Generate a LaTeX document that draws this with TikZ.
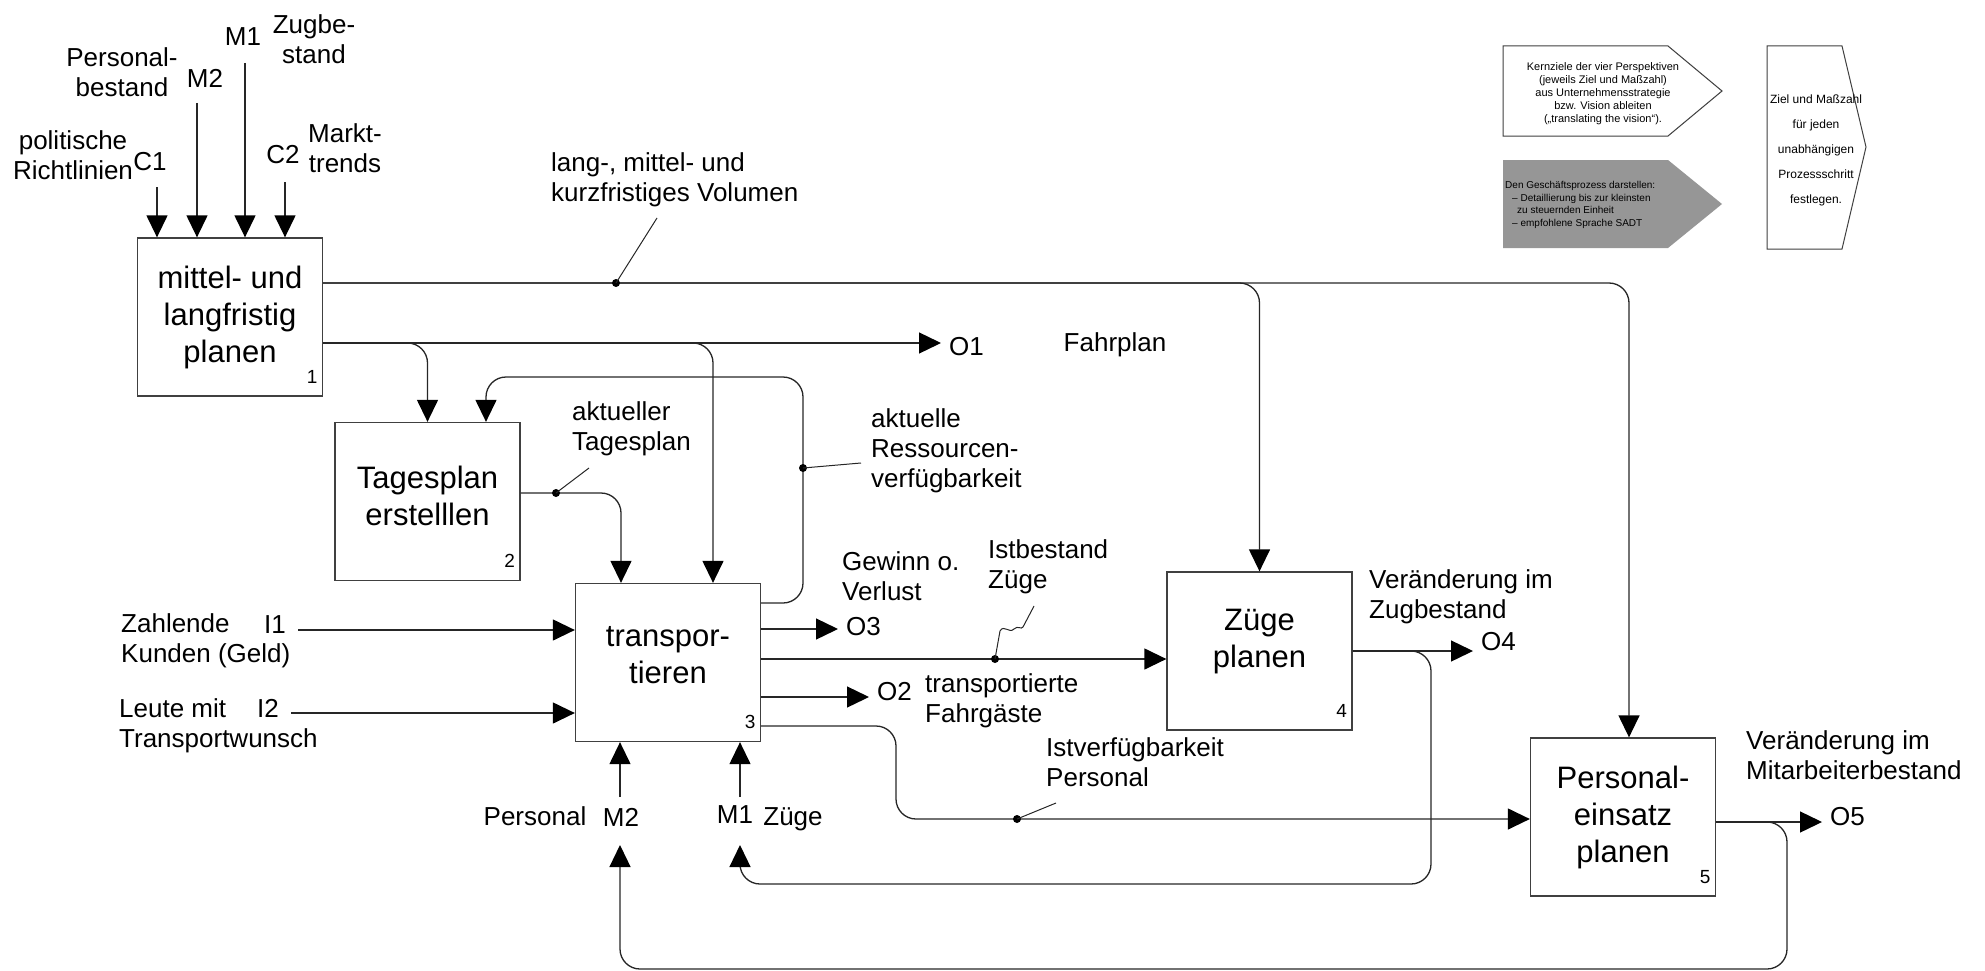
\documentclass[tikz,border=0pt]{standalone}
\usepackage{fontspec}
\setmainfont{Liberation Sans}
\usetikzlibrary{arrows.meta, positioning}

\begin{document}
\begin{tikzpicture}[
		x=1pt, y=-1pt,
		node distance=8pt,
		block/.style={rectangle, draw=black!75, line width=1.3pt,
			minimum width=185pt, minimum height=158pt},
		btxt/.style={inner sep=0pt, align=center, font=\fontsize{31}{37}\selectfont},
		nr/.style={inner sep=0pt, font=\fontsize{19}{19}\selectfont},
		lbl/.style={inner sep=0pt, align=left, font=\fontsize{26}{30}\selectfont},
		clbl/.style={lbl, align=center},
		note/.style={draw=black!75, line width=1pt, fill=white},
		notetxt/.style={inner sep=0pt, align=center, font=\fontsize{11}{13}\selectfont},
		dot/.style={circle, fill=black, inner sep=0pt, minimum size=8pt},
		flow/.style={line width=1.3pt, draw=black!85, rounded corners=20pt},
		arr/.style={flow, -{Triangle[length=22pt, width=21pt, color=black]}},
		lead/.style={line width=1pt, draw=black!85}
	]
	\useasboundingbox (0,0) rectangle (1985,971);

	\node[block] (plan) at (230,317) {};
	\node[block] (tages) at (427.5,501.5) {};
	\node[block] (trans) at (668,662.5) {};
	\node[block] (zuege) at (1259.5,651) {};
	\node[block] (pers) at (1623,817) {};
	\node[btxt] (tplan) at (plan) {mittel- und\\langfristig\\planen};
	\node[btxt] (ttages) at ([yshift=6pt]tages.center) {Tagesplan\\erstelllen};
	\node[btxt] (ttrans) at ([yshift=7pt]trans.center) {transpor-\\tieren};
	\node[btxt] (tzuege) at ([yshift=9pt]zuege.center) {Züge\\planen};
	\node[btxt] (tpers) at (pers) {Personal-\\einsatz\\planen};
	\node[nr] (n1) at ([xshift=-11pt, yshift=20pt]plan.south east) {1};
	\node[nr] (n2) at ([xshift=-11pt, yshift=20pt]tages.south east) {2};
	\node[nr] (n3) at ([xshift=-11pt, yshift=20pt]trans.south east) {3};
	\node[nr] (n4) at ([xshift=-11pt, yshift=20pt]zuege.south east) {4};
	\node[nr] (n5) at ([xshift=-11pt, yshift=20pt]pers.south east) {5};

	\coordinate (c1) at (157,187);
	\coordinate (m2t) at (197,103);
	\coordinate (m1t) at (245,63);
	\coordinate (c2) at (285,182);
	\draw[arr] (c1) -- (c1 |- plan.north);
	\draw[arr] (m2t) -- (m2t |- plan.north);
	\draw[arr] (m1t) -- (m1t |- plan.north);
	\draw[arr] (c2) -- (c2 |- plan.north);
	\node[clbl] (lpol) at (73,155) {politische\\Richtlinien};
	\node[lbl] (lc1) at (150,162) {C1};
	\node[clbl] (lpb) at (122,72) {Personal-\\bestand};
	\node[lbl] (lm2t) at (205,78) {M2};
	\node[lbl] (lm1t) at (243,37) {M1};
	\node[clbl] (lzb) at (314,39) {Zugbe-\\stand};
	\node[lbl] (lc2) at (283,155) {C2};
	\node[clbl] (lmt) at (345,148) {Markt-\\trends};

	\coordinate (u1) at ([yshift=34pt]plan.east);
	\coordinate (l1) at ([yshift=-26pt]plan.east);
	\draw[arr] (u1) -| (zuege.north);
	\draw[arr] (u1) -| ([xshift=6pt]pers.north);
	\node[dot] (d1) at (616,283) {};
	\coordinate (e1) at (657,218);
	\draw[lead] (d1.center) -- (e1);
	\node[lbl, anchor=west] (lvol) at (551,179.5) {lang-, mittel- und\\kurzfristiges Volumen};

	\coordinate (o1) at (941,343);
	\draw[arr] (l1) -- (o1);
	\node[lbl, right=of o1, yshift=-4pt] (lo1) {O1};
	\node[lbl] (lfp) at (1115,345) {Fahrplan};
	\draw[arr] (l1) -| (tages.north);
	\draw[arr] (l1) -| ([xshift=45pt]trans.north);

	\draw[arr] ([yshift=8.5pt]tages.east) -| ([xshift=-47pt]trans.north);
	\node[dot] (d2) at (556,493) {};
	\coordinate (e2) at (589,468);
	\draw[lead] (d2.center) -- (e2);
	\node[lbl, anchor=west] (ltp) at (572,429) {aktueller\\Tagesplan};

	\coordinate (f3) at ([yshift=59.5pt]trans.east);
	\coordinate (k2) at (803,377);
	\draw[arr] (f3) -| (k2) -| ([xshift=58.5pt]tages.north);
	\node[dot] (d3) at (803,468) {};
	\coordinate (e3) at (861,463);
	\draw[lead] (d3.center) -- (e3);
	\node[lbl, anchor=west] (lres) at (871,451) {aktuelle\\Ressourcen-\\verfügbarkeit};

	\coordinate (i1) at (298,630);
	\coordinate (i2) at (291,713);
	\draw[arr] (i1) -- (i1 -| trans.west);
	\draw[arr] (i2) -- (i2 -| trans.west);
	\node[lbl, anchor=west] (lzk) at (121,640.5) {Zahlende\\Kunden (Geld)};
	\node[lbl] (li1) at (275,625) {I1};
	\node[lbl, anchor=west] (llt) at (119,726) {Leute mit\\Transportwunsch};
	\node[lbl] (li2) at (268,708) {I2};

	\coordinate (s3a) at ([yshift=33.5pt]trans.east);
	\coordinate (o3) at (838,629);
	\draw[arr] (s3a) -- (o3);
	\node[lbl, right=of o3, yshift=2pt] (lo3) {O3};
	\node[lbl, anchor=west] (lgv) at (842,576.5) {Gewinn o.\\Verlust};

	\coordinate (s3b) at ([yshift=3.5pt]trans.east);
	\draw[arr] (s3b) -- (s3b -| zuege.west);
	\node[dot] (d4) at (995,659) {};
	\coordinate (e4) at (1034,606);
	\draw[lead] (d4.center) -- (1000,631) .. controls (1004,624) and (1009,634) .. (1014,629)
		.. controls (1018,625) and (1021,630) .. (1023,627) -- (e4);
	\node[lbl, anchor=west] (lib) at (988,566.5) {Istbestand\\Züge};

	\coordinate (s3c) at ([yshift=-34.5pt]trans.east);
	\coordinate (o2) at (869,697);
	\draw[arr] (s3c) -- (o2);
	\node[lbl, right=of o2, yshift=5pt] (lo2) {O2};
	\node[lbl, anchor=west] (ltf) at (925,700.5) {transportierte\\Fahrgäste};

	\coordinate (s3d) at ([yshift=-63.5pt]trans.east);
	\coordinate (k5) at (896,819);
	\draw[arr] (s3d) -| (k5) -- (k5 -| pers.west);
	\node[dot] (d5) at (1017,819) {};
	\coordinate (e5) at (1056,803);
	\draw[lead] (d5.center) -- (e5);
	\node[lbl, anchor=west] (lip) at (1046,762.5) {Istverfügbarkeit\\Personal};

	\coordinate (m2s) at (620,797);
	\coordinate (m1s) at (740,797);
	\draw[arr] (m2s) -- (m2s |- trans.south);
	\draw[arr] (m1s) -- (m1s |- trans.south);
	\node[lbl] (lpers) at (535,816) {Personal};
	\node[lbl] (lm2) at (621,817) {M2};
	\node[lbl] (lm1) at (735,815) {M1};
	\node[lbl] (lzg) at (793,819) {Züge};

	\coordinate (o4) at (1473,651);
	\draw[arr] (zuege.east) -- (o4);
	\node[lbl, right=of o4, yshift=9pt] (lo4) {O4};
	\node[lbl, anchor=west] (lvz) at (1369,596.5) {Veränderung im\\Zugbestand};
	\coordinate (k4) at (1431,884);
	\coordinate (m1in) at (740,845);
	\draw[arr] (zuege.east) -| (k4) -| (m1in);

	\coordinate (s5) at ([yshift=-5pt]pers.east);
	\coordinate (o5) at (1822,822);
	\draw[arr] (s5) -- (o5);
	\node[lbl, right=of o5, yshift=5pt] (lo5) {O5};
	\node[lbl, anchor=west] (lvm) at (1746,755.5) {Veränderung im\\Mitarbeiterbestand};
	\coordinate (k6) at (1787,969);
	\coordinate (m2in) at (620,845);
	\draw[arr] (s5) -| (k6) -| (m2in);

	\draw[note] (1503,46) -- (1668,46) -- (1722,91) -- (1668,136) -- (1503,136) -- cycle;
	\node[notetxt] (kern) at (1603,94) {Kernziele der vier Perspektiven\\(jeweils Ziel und Maßzahl)\\aus Unternehmensstrategie\\bzw. Vision ableiten\\(„translating the vision“).};
	\fill[black!41] (1503,160) -- (1668,160) -- (1722,204) -- (1668,248) -- (1503,248) -- cycle;
	\node[notetxt, anchor=west, align=left, font=\fontsize{10}{12.7}\selectfont] (gp) at (1505,205)
		{Den Geschäftsprozess darstellen:\\\hspace*{7pt}– Detaillierung bis zur kleinsten\\\hspace*{12pt}zu steuernden Einheit\\\hspace*{7pt}– empfohlene Sprache SADT};
	\draw[note] (1767,46) -- (1842,46) -- (1866,147) -- (1842,249) -- (1767,249) -- cycle;
	\node[notetxt, font=\fontsize{12}{25}\selectfont] (zm) at (1816,150) {Ziel und Maßzahl\\für jeden\\unabhängigen\\Prozessschritt\\festlegen.};
\end{tikzpicture}
\end{document}
